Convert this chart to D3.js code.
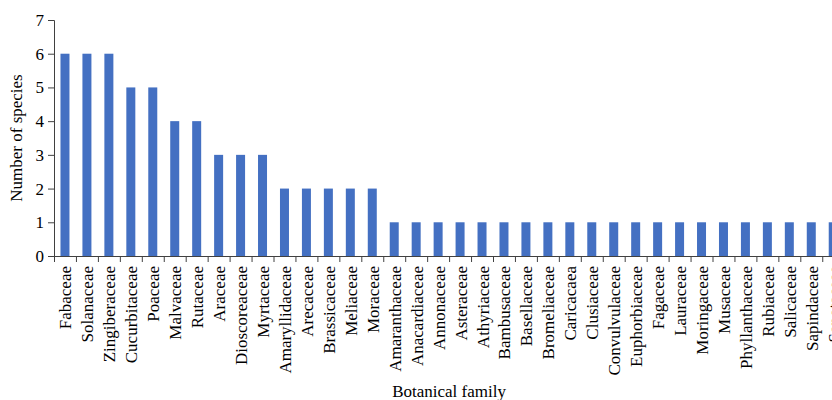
<!DOCTYPE html>
<html>
<head>
<meta charset="utf-8">
<script src="https://cdn.jsdelivr.net/npm/d3@7"></script>
<style>
  body { margin: 0; background: white; }
  svg { display: block; }
  text { font-family: "Liberation Serif", "Times New Roman", serif; fill: #000; }
</style>
</head>
<body>
<svg id="chart" width="832" height="400"></svg>
<script>
let families = ["Fabaceae", "Solanaceae", "Zingiberaceae", "Cucurbitaceae", "Poaceae",
    "Malvaceae", "Rutaceae", "Araceae", "Dioscoreaceae", "Myrtaceae", "Amaryllidaceae",
    "Arecaceae", "Brassicaceae", "Meliaceae", "Moraceae", "Amaranthaceae", "Anacardiaceae",
    "Annonaceae", "Asteraceae", "Athyriaceae", "Bambusaceae", "Basellaceae", "Bromeliaceae",
    "Caricacaea", "Clusiaceae", "Convulvulaceae", "Euphorbiaceae", "Fagaceae", "Lauraceae",
    "Moringaceae", "Musaceae", "Phyllanthaceae", "Rubiaceae", "Salicaceae", "Sapindaceae",
    "Sapotaceae"];
let species = [6, 6, 6, 5, 5, 4, 4, 3, 3, 3, 2, 2, 2, 2, 2,
    1, 1, 1, 1, 1, 1, 1, 1, 1, 1, 1, 1, 1, 1, 1, 1, 1, 1, 1, 1, 1];
let yTicks = [0, 1, 2, 3, 4, 5, 6, 7];

function makeChart(id) {
    let left = 54, top = 20, bottom = 256;
    let band = 21.95;

    let chart = d3.select("#" + id);

    let xScale = d3.scaleBand().domain(families)
        .range([left, left + band * families.length])
        .paddingInner(0.59).paddingOuter(0.295);
    let yScale = d3.scaleLinear().domain([0, 7]).range([bottom, top]);

    // bars
    chart.selectAll(".bar").data(families).enter().append("rect")
        .attr("class", "bar")
        .attr("x", d => xScale(d))
        .attr("y", (d, i) => yScale(species[i]))
        .attr("width", xScale.bandwidth())
        .attr("height", (d, i) => bottom - yScale(species[i]))
        .style("fill", "#4470C2");

    // y axis
    let yAxis = chart.append("g")
        .attr("transform", `translate(${left},0)`)
        .call(d3.axisLeft(yScale).tickValues(yTicks).tickFormat(d3.format("d")).tickSize(6).tickPadding(4));
    yAxis.selectAll("text").style("font-size", "17px");
    yAxis.selectAll("line, path").attr("stroke", "#404040");

    // x axis, ticks at band edges
    let step = xScale.step();
    let edges = d3.range(families.length + 1).map(i => left + i * step);
    chart.append("line")
        .attr("x1", left).attr("x2", left + step * families.length)
        .attr("y1", bottom + 0.5).attr("y2", bottom + 0.5)
        .attr("stroke", "#404040");
    chart.selectAll(".xtick").data(edges).enter().append("line")
        .attr("class", "xtick")
        .attr("x1", d => d + 0.5).attr("x2", d => d + 0.5)
        .attr("y1", bottom).attr("y2", bottom + 6)
        .attr("stroke", "#404040");

    chart.selectAll(".xlabel").data(families).enter().append("text")
        .attr("class", "xlabel")
        .attr("transform", d => `translate(${xScale(d) + xScale.bandwidth() / 2 + 6.5},${bottom + 10}) rotate(-90)`)
        .attr("text-anchor", "end")
        .style("font-size", "17px")
        .text(d => d);

    // titles
    chart.append("text")
        .attr("transform", `translate(22,${(top + bottom) / 2}) rotate(-90)`)
        .attr("text-anchor", "middle")
        .style("font-size", "17px")
        .text("Number of species");

    chart.append("text")
        .attr("x", (left + left + step * families.length) / 2)
        .attr("y", 397)
        .attr("text-anchor", "middle")
        .style("font-size", "17px")
        .text("Botanical family");
}

makeChart("chart");
</script>
</body>
</html>
